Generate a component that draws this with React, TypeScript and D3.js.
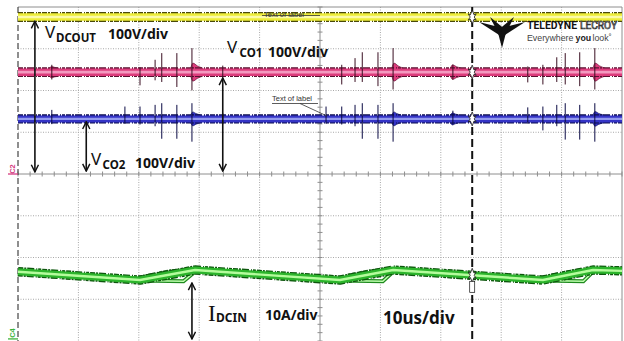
import React from "react";
import * as d3 from "d3";

const WIDTH = 624;
const HEIGHT = 341;

// Horizontal: 10 divisions at 10 µs/div; vertical: 8 divisions, 0 = screen centre
const TIME_RANGE: [number, number] = [0, 100];
const DIV_RANGE: [number, number] = [-4, 4];

// Channel offsets (divisions from centre)
const C1_LEVEL = 3.76; // V_DCOUT (yellow)
const C2_LEVEL = 2.44; // V_CO1 (pink)
const C3_LEVEL = 1.32; // V_CO2 (blue)

// C4 — I_DCIN ripple corner points
const c4Time = [0, 20.2, 29.3, 53.3, 62.1, 86.9, 95.2, 100];
const c4Div = [-2.34, -2.54, -2.3, -2.54, -2.3, -2.54, -2.3, -2.32];

// Overlapping persistence sweeps during each ramp-up: [time, div]
const c4EarlySweeps: [number, number][][] = [
  [[20.2, -2.52], [24.6, -2.38], [29.3, -2.3]],
  [[53.3, -2.52], [57.7, -2.38], [62.1, -2.3]],
  [[86.9, -2.52], [91.3, -2.38], [95.2, -2.3]],
];
const c4LateSweeps: [number, number][][] = [
  [[20.2, -2.55], [27.4, -2.57], [29.3, -2.34]],
  [[53.3, -2.55], [60.4, -2.57], [62.1, -2.34]],
  [[86.9, -2.55], [93.6, -2.57], [95.2, -2.34]],
];

// Switching spikes: [time µs, excursion up (div), excursion down (div)]
const c2Spikes: [number, number, number][] = [
  [5.6, 0.08, 0.08], [20.2, 0.02, 0.22], [22.7, 0.2, 0.1], [23.8, 0.36, 0.14],
  [26.3, 0.36, 0.26], [28.8, 0.48, 0.34], [33.9, 0.06, 0.04],
  [53.6, 0.08, 0.2], [55.8, 0.24, 0.14], [57.0, 0.38, 0.14], [59.6, 0.38, 0.24],
  [62.1, 0.48, 0.32], [72.0, 0.08, 0.08],
  [84.4, 0.04, 0.15], [86.9, 0.08, 0.2], [89.2, 0.26, 0.14], [90.6, 0.36, 0.2],
  [93.0, 0.38, 0.24], [95.5, 0.48, 0.32],
];
const c3Spikes: [number, number, number][] = [
  [5.6, 0.12, 0.03], [17.7, 0.2, 0.02], [20.2, 0.2, 0.04], [22.7, 0.24, 0.08],
  [23.8, 0.28, 0.38], [26.3, 0.24, 0.38], [28.8, 0.28, 0.45], [33.9, 0.04, 0.03],
  [51.0, 0.2, 0.02], [53.6, 0.2, 0.04], [55.8, 0.24, 0.08], [57.0, 0.28, 0.38],
  [59.6, 0.24, 0.38], [62.1, 0.28, 0.45], [72.0, 0.1, 0.04],
  [84.4, 0.18, 0.02], [86.9, 0.2, 0.18], [89.2, 0.24, 0.08], [90.6, 0.28, 0.4],
  [93.0, 0.24, 0.4], [95.5, 0.28, 0.45],
];

// Ringing bursts after each edge: [start µs, end µs, envelope (div)]
const c2Bursts: [number, number, number][] = [
  [5.2, 6.8, 0.04], [28.6, 30.6, 0.12], [61.9, 63.8, 0.12], [71.6, 73.4, 0.08], [95.2, 97.2, 0.12],
];
const c3Bursts: [number, number, number][] = [
  [28.6, 30.2, 0.07], [61.9, 63.4, 0.07], [71.6, 73.0, 0.05], [95.2, 96.9, 0.08],
];

// Cursor position (µs)
const CURSOR_T = 75.2;

// Offset arrows: [time µs, from div, to div]
const arrows: [number, number, number][] = [
  [2.8, 3.66, 0.05],
  [33.9, 2.3, 0.07],
  [11.3, 1.25, 0.07],
  [28.8, -2.61, -3.95],
];

const x = d3.scaleLinear().domain(TIME_RANGE).range([18, 622]);
const y = d3.scaleLinear().domain(DIV_RANGE).range([341, 7]);

const majorT = d3.range(0, 101, 10);
const majorV = d3.range(-4, 5, 1);
const minorT = d3.range(0, 100.01, 2);
const minorV = d3.range(-4, 4.01, 0.2);

const line = d3
  .line<[number, number]>()
  .x((d) => x(d[0]))
  .y((d) => y(d[1]));

type Palette = { edge: string; body: string; core: string };
const YELLOW: Palette = { edge: "#4a4a0a", body: "#eded3a", core: "#fbfba8" };
const PINK: Palette = { edge: "#5a1030", body: "#dc3c7c", core: "#f39ac0" };
const BLUE: Palette = { edge: "#0c0c4c", body: "#3434c6", core: "#9299ee" };
const GREEN: Palette = { edge: "#0d560d", body: "#2cb42c", core: "#b4fc9c" };

const SPECKLE = "5 1 2 1 7 2 1 1 3 1";

function Band({ pts, pal, w }: { pts: [number, number][]; pal: Palette; w: number }) {
  const d = line(pts) || "";
  return (
    <g fill="none" strokeLinejoin="round">
      <path d={d} stroke={pal.edge} strokeWidth={w + 2.4} strokeDasharray={SPECKLE} />
      <path d={d} stroke={pal.body} strokeWidth={w} />
      <path d={d} stroke={pal.core} strokeWidth={w * 0.35} />
    </g>
  );
}

function Bursts({ list, level, pal }: { list: [number, number, number][]; level: number; pal: Palette }) {
  const area = d3
    .area<[number, number]>()
    .x((d) => x(d[0]))
    .y0((d) => y(level - d[1]) + 4)
    .y1((d) => y(level + d[1]) - 4)
    .curve(d3.curveMonotoneX);
  return (
    <g>
      {list.map(([t0, t1, e], i) => (
        <path
          key={i}
          d={area([[t0, 0], [t0 + 0.35, e], [t0 + (t1 - t0) * 0.55, e * 0.45], [t1, 0]]) || ""}
          fill={pal.body}
          stroke={pal.edge}
          strokeWidth={0.6}
        />
      ))}
    </g>
  );
}

function Spikes({ list, level, color }: { list: [number, number, number][]; level: number; color: string }) {
  return (
    <g stroke={color} strokeWidth={1}>
      {list.map(([t, up, dn], i) => (
        <line key={i} x1={x(t)} x2={x(t)} y1={y(level + up) - 4} y2={y(level - dn) + 4} />
      ))}
    </g>
  );
}

function CursorMark({ cx, cy }: { cx: number; cy: number }) {
  const pts = [
    [0, -7], [1.8, -2.2], [4, -3.2], [2, 0], [4, 3.2], [1.8, 2.2],
    [0, 7], [-1.8, 2.2], [-4, 3.2], [-2, 0], [-4, -3.2], [-1.8, -2.2],
  ];
  return (
    <polygon
      points={pts.map(([a, b]) => `${cx + a},${cy + b}`).join(" ")}
      fill="#fff"
      stroke="#111"
      strokeWidth={0.8}
    />
  );
}

export default function App() {
  const c4Pts: [number, number][] = c4Time.map((t, i) => [t, c4Div[i]]);
  const flat = (v: number): [number, number][] => [[TIME_RANGE[0], v], [TIME_RANGE[1], v]];
  const cx = x(CURSOR_T);
  const c4AtCursor = d3.scaleLinear().domain(c4Time).range(c4Div)(CURSOR_T);

  const labelFont = "'Noto Sans', 'Open Sans', sans-serif";
  const logoArms: [number, number][] = [
    [479, 22],
    [490, 17],
    [514, 17],
    [525, 22],
    [502, 48],
  ];

  return (
    <svg
      width={WIDTH}
      height={HEIGHT}
      style={{ position: "absolute", left: 0, top: 0, background: "#fff" }}
      fontFamily={labelFont}
    >
      <defs>
        <marker
          id="head"
          viewBox="0 0 10 10"
          refX={9}
          refY={5}
          markerWidth={9}
          markerHeight={9}
          markerUnits="userSpaceOnUse"
          orient="auto-start-reverse"
        >
          <path d="M1,1 L9,5 L1,9" fill="none" stroke="#111" strokeWidth={1.6} />
        </marker>
      </defs>

      <rect width={WIDTH} height={HEIGHT} fill="#fff" />

      {/* graticule */}
      <g stroke="#a8a8a8" strokeWidth={1} strokeDasharray="1 1.5">
        {majorT.slice(1, -1).filter((t) => t !== 50).map((t) => (
          <line key={"t" + t} x1={x(t)} x2={x(t)} y1={y(4)} y2={y(-4)} />
        ))}
        {majorV.slice(1, -1).filter((v) => v !== 0).map((v) => (
          <line key={"v" + v} x1={x(0)} x2={x(100)} y1={y(v)} y2={y(v)} />
        ))}
      </g>
      <g stroke="#8e8e8e" strokeWidth={1}>
        <line x1={x(0)} x2={x(100)} y1={y(0)} y2={y(0)} />
        <line x1={x(50)} x2={x(50)} y1={y(4)} y2={y(-4)} />
        {minorT.map((t) => (
          <line key={"mt" + t} x1={x(t)} x2={x(t)} y1={y(0) - 2.5} y2={y(0) + 2.5} />
        ))}
        {minorV.map((v) => (
          <line key={"mv" + v} x1={x(50) - 2.5} x2={x(50) + 2.5} y1={y(v)} y2={y(v)} />
        ))}
        <line x1={x(0)} x2={x(100)} y1={y(4)} y2={y(4)} />
        <line x1={x(100)} x2={x(100)} y1={y(4)} y2={y(-4)} />
      </g>
      <line x1={x(0)} x2={x(0)} y1={y(4)} y2={y(-4)} stroke="#444" strokeWidth={1.2} strokeDasharray="6 3" />

      {/* channel ground markers */}
      <line x1={8} x2={x(0)} y1={y(0)} y2={y(0)} stroke="#d43a80" strokeWidth={1.3} />
      <text
        transform={`translate(15,169) rotate(-90)`}
        textAnchor="middle"
        fontSize={7.5}
        fontWeight="bold"
        fill="#d43a80"
        fontFamily="'Liberation Sans', sans-serif"
      >
        C2
      </text>
      <line x1={8} x2={x(0)} y1={y(-3.95)} y2={y(-3.95)} stroke="#3cb43c" strokeWidth={1.3} />
      <text
        transform={`translate(15,333) rotate(-90)`}
        textAnchor="middle"
        fontSize={7.5}
        fontWeight="bold"
        fill="#3cb43c"
        fontFamily="'Liberation Sans', sans-serif"
      >
        C4
      </text>

      {/* C4 current ripple with persistence */}
      {c4EarlySweeps.map((s, i) => (
        <path key={"e" + i} d={line(s) || ""} fill="none" stroke="#17661a" strokeWidth={7} strokeDasharray={SPECKLE} />
      ))}
      {c4LateSweeps.map((s, i) => (
        <path key={"l" + i} d={line(s) || ""} fill="none" stroke="#1f8a1f" strokeWidth={4} />
      ))}
      {c4LateSweeps.map((s, i) => (
        <path key={"lc" + i} d={line(s) || ""} fill="none" stroke="#c0ffb0" strokeWidth={1.5} />
      ))}
      <Band pts={c4Pts} pal={GREEN} w={7} />

      {/* C1 */}
      <Band pts={flat(C1_LEVEL)} pal={YELLOW} w={7.5} />

      {/* C2 */}
      <Bursts list={c2Bursts} level={C2_LEVEL} pal={PINK} />
      <Band pts={flat(C2_LEVEL)} pal={PINK} w={7.5} />
      <Spikes list={c2Spikes} level={C2_LEVEL} color="#3a0f22" />

      {/* C3 */}
      <Bursts list={c3Bursts} level={C3_LEVEL} pal={BLUE} />
      <Band pts={flat(C3_LEVEL)} pal={BLUE} w={7} />
      <Spikes list={c3Spikes} level={C3_LEVEL} color="#0a0a44" />

      {/* cursor */}
      <line x1={cx} x2={cx} y1={y(4)} y2={y(-4)} stroke="#111" strokeWidth={2} strokeDasharray="8 4" />
      <CursorMark cx={cx} cy={y(C1_LEVEL)} />
      <CursorMark cx={cx} cy={y(C2_LEVEL)} />
      <CursorMark cx={cx} cy={y(C3_LEVEL)} />
      <CursorMark cx={cx} cy={y(c4AtCursor)} />
      <rect x={cx - 2.5} y={y(c4AtCursor) + 6} width={5} height={11} fill="#fff" stroke="#111" strokeWidth={0.7} />

      {/* trace label tags */}
      <g fontFamily="'Liberation Sans', Arial, sans-serif" fontSize={7.5} fill="#333">
        <text x={264} y={17}>Text of label</text>
        <line x1={262} x2={320} y1={15.5} y2={15.5} stroke="#333" strokeWidth={0.8} />
        <text x={272} y={101}>Text of label</text>
        <line x1={272} x2={318} y1={103.5} y2={103.5} stroke="#333" strokeWidth={0.8} />
        <line x1={300} x2={327} y1={103.5} y2={116} stroke="#333" strokeWidth={0.8} />
      </g>

      {/* offset arrows */}
      <g stroke="#111" strokeWidth={1.6}>
        {arrows.map(([t, a, b], i) => (
          <line
            key={i}
            x1={x(t)}
            x2={x(t)}
            y1={y(a)}
            y2={y(b)}
            markerStart="url(#head)"
            markerEnd="url(#head)"
          />
        ))}
      </g>

      {/* annotations */}
      <g fill="#111">
        <text x={45} y={38} fontSize={17}>V</text>
        <text x={56} y={42} fontSize={11.5} fontWeight="bold">DCOUT</text>
        <text x={108} y={38.5} fontSize={14} fontWeight="bold">100V/div</text>

        <text x={227} y={53} fontSize={17}>V</text>
        <text x={239.5} y={57} fontSize={11.5} fontWeight="bold">CO1</text>
        <text x={268} y={57} fontSize={14} fontWeight="bold">100V/div</text>

        <text x={91} y={165} fontSize={17}>V</text>
        <text x={102.5} y={168.5} fontSize={11.5} fontWeight="bold">CO2</text>
        <text x={135} y={167.5} fontSize={14} fontWeight="bold">100V/div</text>

        <text x={208} y={321} fontSize={23} fontFamily="'Liberation Serif', 'DejaVu Serif', serif">I</text>
        <text x={216} y={322} fontSize={12} fontWeight="bold">DCIN</text>
        <text x={265} y={320} fontSize={14} fontWeight="bold">10A/div</text>

        <text x={383} y={324} fontSize={17} fontWeight="bold">10us/div</text>
      </g>

      {/* vendor logo */}
      <g fill="#111">
        {logoArms.map(([tx, ty], i) => {
          const cxL = 502;
          const cyL = 32;
          const ang = Math.atan2(ty - cyL, tx - cxL);
          const px = Math.cos(ang + Math.PI / 2) * 4.2;
          const py = Math.sin(ang + Math.PI / 2) * 4.2;
          return (
            <polygon
              key={i}
              points={`${cxL + px},${cyL + py} ${tx},${ty} ${cxL - px},${cyL - py}`}
            />
          );
        })}
        <text
          x={527}
          y={29}
          fontSize={10}
          fontWeight="bold"
          fontFamily="'Liberation Sans Narrow', 'Roboto', sans-serif"
          textLength={50}
          lengthAdjust="spacingAndGlyphs"
        >
          TELEDYNE
        </text>
        <text
          x={580}
          y={29}
          fontSize={10}
          fontFamily="'Liberation Sans Narrow', 'Roboto', sans-serif"
          fill="#fff"
          stroke="#333"
          strokeWidth={0.7}
          textLength={37}
          lengthAdjust="spacingAndGlyphs"
        >
          LECROY
        </text>
        <g fontSize={8.8} fontFamily="'Liberation Sans', Arial, sans-serif">
          <text x={527} y={40.5} fill="#444">
            Everywhere
          </text>
          <text x={575.5} y={40.5} fill="#222" fontWeight="bold">
            you
          </text>
          <text x={592.5} y={40.5} fill="#444">
            look˚
          </text>
        </g>
      </g>
    </svg>
  );
}
